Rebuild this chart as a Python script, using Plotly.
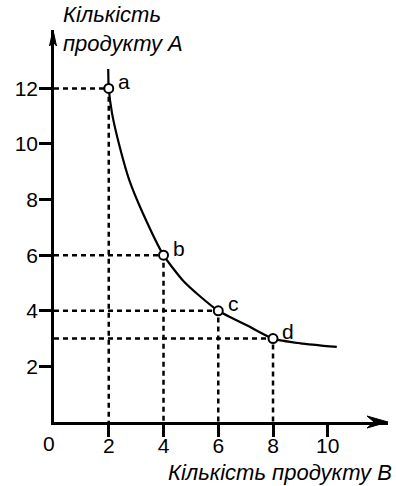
import plotly.graph_objects as go

# Points on the indifference curve
point_names = ["a", "b", "c", "d"]
good_b = [2, 4, 6, 8]
good_a = [12, 6, 4, 3]

# Smooth curve through the points
curve_x = [1.98, 2.0, 2.12, 2.4, 2.75, 3.25, 4.0, 4.7, 5.3, 6.0, 7.1, 8.0, 9.0, 10.33]
curve_y = [12.7, 12.0, 11.1, 9.9, 8.7, 7.5, 6.0, 5.1, 4.55, 4.0, 3.45, 3.0, 2.83, 2.7]

x_ticks = [2, 4, 6, 8, 10]
y_ticks = [2, 4, 6, 8, 10, 12]

x_title = "Кількість продукту B"
y_title = ["Кількість", "продукту A"]

FONT = "Liberation Sans, Arial, sans-serif"
BLACK = "#000000"

fig = go.Figure()

# dashed guide lines from each point to both axes
for xv, yv in zip(good_b, good_a):
    fig.add_trace(go.Scatter(
        x=[0, xv, xv], y=[yv, yv, 0], mode="lines",
        line=dict(color=BLACK, width=2.5, dash="5px,4px"),
        hoverinfo="skip", showlegend=False, cliponaxis=False,
    ))

fig.add_trace(go.Scatter(
    x=curve_x, y=curve_y, mode="lines",
    line=dict(color=BLACK, width=2.2, shape="spline", smoothing=0.6),
    showlegend=False, cliponaxis=False,
))

fig.add_trace(go.Scatter(
    x=good_b, y=good_a, mode="markers",
    marker=dict(size=9, color="white", line=dict(color=BLACK, width=2)),
    showlegend=False, cliponaxis=False,
))

annotations = []
for name, xv, yv in zip(point_names, good_b, good_a):
    annotations.append(dict(
        x=xv, y=yv, xref="x", yref="y", text=name, showarrow=False,
        xshift=15, yshift=7, font=dict(family=FONT, size=21, color=BLACK),
    ))

annotations.append(dict(
    x=0, y=0, xref="x", yref="y", text="0", showarrow=False,
    xshift=-5, yshift=-21, font=dict(family=FONT, size=21, color=BLACK),
))
annotations.append(dict(
    x=1, y=0, xref="paper", yref="paper", xanchor="right", yanchor="top",
    text=f"<i>{x_title}</i>", showarrow=False, xshift=6, yshift=-36,
    font=dict(family=FONT, size=22, color=BLACK),
))
annotations.append(dict(
    x=0, y=1, xref="paper", yref="paper", xanchor="left", yanchor="bottom",
    text="<i>" + "<br>".join(y_title) + "</i>", showarrow=False,
    xshift=7, yshift=-28, align="left",
    font=dict(family=FONT, size=22, color=BLACK),
))

# arrowheads at the ends of both axes
shapes = [
    dict(type="path", xref="x domain", yref="y domain", xanchor=1, yanchor=0,
         xsizemode="pixel", ysizemode="pixel",
         path="M 0,0 L -21,6 L -14,0 L -21,-6 Z",
         fillcolor=BLACK, line=dict(color=BLACK, width=1)),
    dict(type="path", xref="x domain", yref="y domain", xanchor=0, yanchor=1,
         xsizemode="pixel", ysizemode="pixel",
         path="M -1,0 L -4.5,-16 L -1,-12 L 2.5,-16 Z",
         fillcolor=BLACK, line=dict(color=BLACK, width=1)),
]

axis_common = dict(
    showgrid=False, zeroline=False, showline=True, linecolor=BLACK, linewidth=2.5,
    ticks="outside", ticklen=12, tickwidth=2.5, tickcolor=BLACK,
    tickfont=dict(family=FONT, size=21, color=BLACK),
)

fig.update_layout(
    width=396, height=486,
    margin=dict(l=54, r=8, t=30, b=64),
    paper_bgcolor="white", plot_bgcolor="white",
    xaxis=dict(range=[0, 12.2], tickvals=x_ticks, ticklabelstandoff=-9, **axis_common),
    yaxis=dict(range=[0, 14.1], tickvals=y_ticks, ticklabelstandoff=-3, **axis_common),
    annotations=annotations, shapes=shapes,
)

fig.write_html("out.html")
